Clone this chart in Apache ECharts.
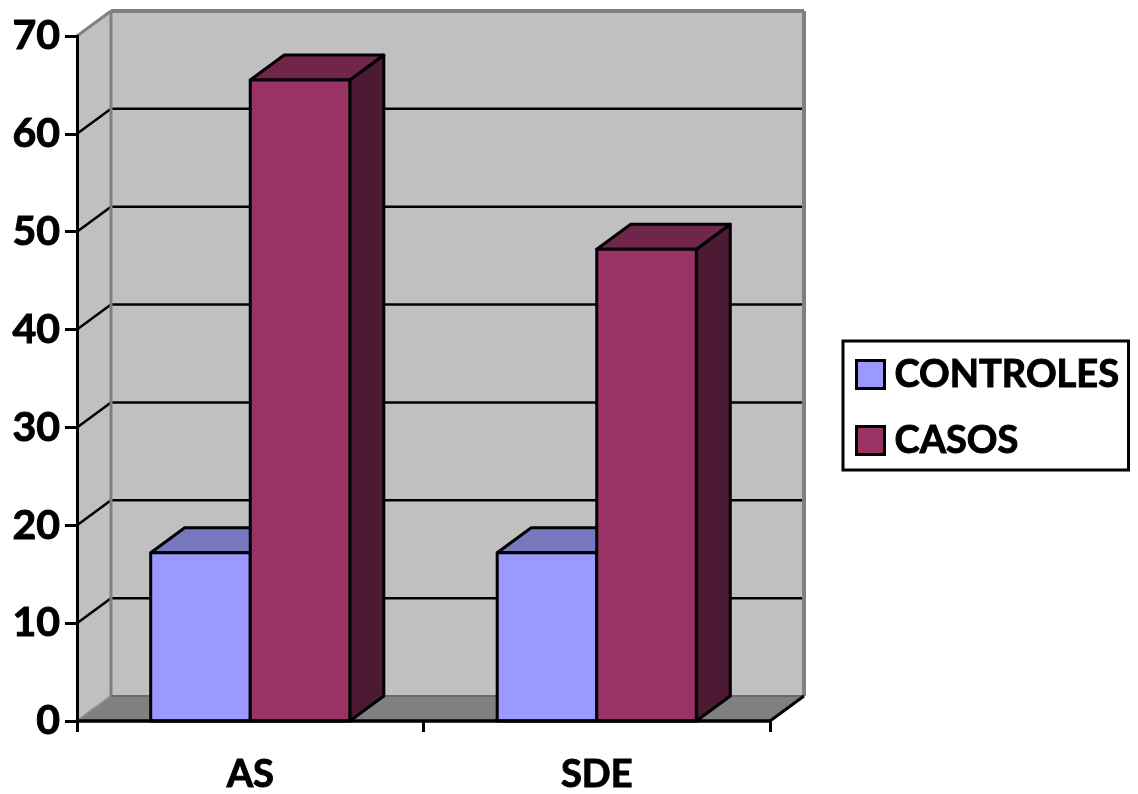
<!DOCTYPE html>
<html>
<head>
<meta charset="utf-8">
<style>html,body{margin:0;padding:0;background:#fff}#chart{width:1138px;height:794px}</style>
<script src="https://cdn.jsdelivr.net/npm/echarts@6/dist/echarts.min.js"></script>
</head>
<body>
<div id="chart"></div>
<script>
// Grouped columns with a fake 3D box look, compared across two categories
const categories = ['AS', 'SDE'];
const controles = [17.2, 17.2];
const casos = [65.5, 48.2];
const gridTicks = [10, 20, 30, 40, 50, 60];

const DEPTH_X = 34;
const DEPTH_Y = -25;
const FONT = 'Lato';
// A thin outline thickens the letters to the heavy weight used across the chart
const heavy = { fontFamily: FONT, fontWeight: 700, color: '#000', textBorderColor: '#000', textBorderWidth: 1 };

const poly = (points, fill, stroke, lineWidth) => ({
  type: 'polygon',
  shape: { points },
  style: { fill, stroke: stroke || null, lineWidth: lineWidth || 0, lineJoin: 'round' }
});
const seg = (a, b, stroke, lineWidth) => ({
  type: 'line',
  shape: { x1: a[0], y1: a[1], x2: b[0], y2: b[1] },
  style: { stroke, lineWidth }
});

// Side wall, back wall and floor of the box, positioned off the value scale
function renderWalls(params, api) {
  const left = params.coordSys.x;
  const right = left + params.coordSys.width;
  const y0 = api.coord([0, 0])[1];
  const yTop = api.coord([0, 70])[1];
  const back = (x, y) => [x + DEPTH_X, y + DEPTH_Y];
  const kids = [
    poly([[left, y0], back(left, y0), back(left, yTop), [left, yTop]], '#c0c0c0'),
    poly([back(left, y0), back(right, y0), back(right, yTop), back(left, yTop)], '#c0c0c0'),
    poly([[left, y0], back(left, y0), back(right, y0), [right, y0]], '#808080')
  ];
  gridTicks.forEach((v) => {
    const y = api.coord([0, v])[1];
    kids.push(seg([left, y], back(left, y), '#000', 2.5));
    kids.push(seg(back(left, y), back(right, y), '#000', 2.5));
  });
  kids.push(seg([left, yTop], back(left, yTop), '#808080', 3));
  kids.push(seg(back(left, yTop), back(right, yTop), '#808080', 4));
  kids.push(seg(back(left, yTop), back(left, y0), '#808080', 3));
  kids.push(seg(back(right, yTop), back(right, y0), '#808080', 4));
  kids.push(seg(back(left, y0), back(right, y0), '#6a6a6a', 2));
  kids.push(seg([left, y0], back(left, y0), '#8c8c8c', 2));
  kids.push(seg([right, y0], back(right, y0), '#000', 3));
  return { type: 'group', children: kids };
}

// One box per data item: front, top and right-hand faces
function boxRenderer(slot, front, top, side) {
  return function (params, api) {
    const band = api.size([1, 0])[0];
    const w = band * 0.2873;
    const c = api.coord([api.value(0), api.value(1)]);
    const base = api.coord([api.value(0), 0])[1];
    const x0 = c[0] + slot * w;
    const x1 = x0 + w;
    const yT = c[1];
    const sx = DEPTH_X, sy = DEPTH_Y;
    return {
      type: 'group',
      children: [
        poly([[x1, base], [x1 + sx, base + sy], [x1 + sx, yT + sy], [x1, yT]], side, '#000', 3),
        poly([[x0, yT], [x0 + sx, yT + sy], [x1 + sx, yT + sy], [x1, yT]], top, '#000', 3),
        poly([[x0, base], [x1, base], [x1, yT], [x0, yT]], front, '#000', 3)
      ]
    };
  };
}

const chart = echarts.init(document.getElementById('chart'), null, { renderer: 'canvas' });
chart.setOption({
  animation: false,
  backgroundColor: '#fff',
  grid: { left: 77, top: 36, width: 693, height: 685, outerBoundsMode: 'none' },
  legend: {
    left: 843,
    top: 341,
    orient: 'vertical',
    data: ['CONTROLES', 'CASOS'],
    icon: 'rect',
    itemWidth: 28,
    itemHeight: 28,
    itemGap: 27,
    padding: [14, 9, 10, 12],
    backgroundColor: '#fff',
    borderColor: '#000',
    borderWidth: 3,
    itemStyle: { borderColor: '#000', borderWidth: 3 },
    textStyle: Object.assign({ fontSize: 38, padding: [9, 0, 0, 5] }, heavy)
  },
  xAxis: {
    type: 'category',
    data: categories,
    z: 10,
    axisLine: { lineStyle: { color: '#000', width: 3.5 } },
    axisTick: { show: true, length: 11, lineStyle: { color: '#000', width: 3 } },
    axisLabel: Object.assign({ fontSize: 38, margin: 35 }, heavy)
  },
  yAxis: {
    type: 'value',
    min: 0,
    max: 70,
    interval: 10,
    z: 10,
    splitLine: { show: false },
    axisLine: { show: true, lineStyle: { color: '#000', width: 3 } },
    axisTick: { show: true, length: 12, lineStyle: { color: '#000', width: 3 } },
    axisLabel: Object.assign({ fontSize: 41, margin: 17, padding: [5, 0, 0, 0] }, heavy)
  },
  series: [
    {
      name: 'box',
      type: 'custom',
      silent: true,
      z: 1,
      data: [[0, 0]],
      encode: { x: 0, y: 1 },
      renderItem: renderWalls
    },
    {
      name: 'CONTROLES',
      type: 'custom',
      z: 2,
      itemStyle: { color: '#9999ff' },
      data: controles.map((v, i) => [i, v]),
      encode: { x: 0, y: 1 },
      renderItem: boxRenderer(-1, '#9999ff', '#7777bd', '#4c4c80')
    },
    {
      name: 'CASOS',
      type: 'custom',
      z: 3,
      itemStyle: { color: '#993366' },
      data: casos.map((v, i) => [i, v]),
      encode: { x: 0, y: 1 },
      renderItem: boxRenderer(0, '#993366', '#70264b', '#4c1a33')
    }
  ]
});
</script>
</body>
</html>
